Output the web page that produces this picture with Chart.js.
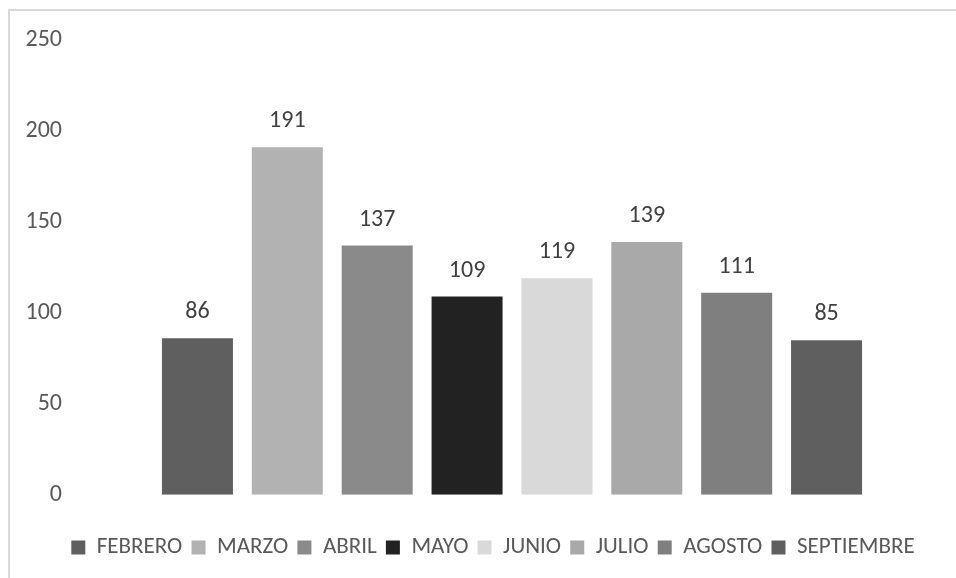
<!DOCTYPE html>
<html>
<head>
<meta charset="utf-8">
<script src="https://cdn.jsdelivr.net/npm/chart.js@4"></script>
<style>
  html, body { margin: 0; padding: 0; background: #fff; overflow: hidden; }
  #frame { position: absolute; left: 8px; top: 9px; width: 960px; height: 580px;
           border: 2px solid #d9d9d9; box-sizing: border-box; }
  #wrap { position: absolute; left: 0; top: 0; width: 956px; height: 578px; }
</style>
</head>
<body>
<div id="frame"></div>
<div id="wrap"><canvas id="chart"></canvas></div>
<script>
// ─── Data ───────────────────────────────────────────
const months = ['FEBRERO', 'MARZO', 'ABRIL', 'MAYO', 'JUNIO', 'JULIO', 'AGOSTO', 'SEPTIEMBRE'];
const values = [86, 191, 137, 109, 119, 139, 111, 85];
const colors = ['#5f5f5f', '#b2b2b2', '#8a8a8a', '#222222', '#d9d9d9', '#a9a9a9', '#7f7f7f', '#5f5f5f'];
const yTicks = [0, 50, 100, 150, 200, 250];

const FONT = "Carlito, Lato, 'Liberation Sans', sans-serif";

// ─── Value labels above bars ────────────────────────
const valueLabels = {
  id: 'valueLabels',
  afterDatasetsDraw(chart) {
    const ctx = chart.ctx;
    ctx.save();
    ctx.font = '24px ' + FONT;
    ctx.fillStyle = '#404040';
    ctx.textAlign = 'center';
    ctx.textBaseline = 'middle';
    chart.data.datasets.forEach((ds, i) => {
      const meta = chart.getDatasetMeta(i);
      meta.data.forEach((bar, j) => {
        ctx.fillText(String(ds.data[j]), bar.x, bar.y - 26);
      });
    });
    ctx.restore();
  }
};

// legend is centred on the whole frame in the original, nudge it right
const legendShift = {
  id: 'legendShift',
  afterLayout(chart) {
    chart.legend.left += 17;
    chart.legend.right += 17;
  }
};

const datasets = months.map((m, i) => ({
  label: m,
  data: [values[i]],
  backgroundColor: colors[i],
  borderWidth: 0,
  categoryPercentage: 0.817,
  barPercentage: 0.79
}));

new Chart(document.getElementById('chart'), {
  type: 'bar',
  data: { labels: [''], datasets },
  options: {
    responsive: true,
    maintainAspectRatio: false,
    animation: false,
    layout: { padding: { top: 40, right: 4, left: 0, bottom: 9 } },
    plugins: {
      tooltip: { enabled: false },
      legend: {
        position: 'bottom',
        labels: {
          boxWidth: 14,
          boxHeight: 14,
          padding: 9.2,
          color: '#595959',
          font: { family: FONT, size: 23 }
        }
      }
    },
    scales: {
      x: {
        display: true,
        grid: { display: false },
        border: { display: false },
        ticks: { display: false },
        afterFit: s => { s.height = 32; }
      },
      y: {
        min: 0,
        max: 250,
        afterBuildTicks: s => { s.ticks = yTicks.map(v => ({ value: v })); },
        afterFit: s => { s.width = 72; },
        grid: { display: false, drawTicks: false },
        border: { display: false },
        ticks: { padding: 10, color: '#595959', font: { family: FONT, size: 24 } }
      }
    }
  },
  plugins: [valueLabels, legendShift]
});
</script>
</body>
</html>
